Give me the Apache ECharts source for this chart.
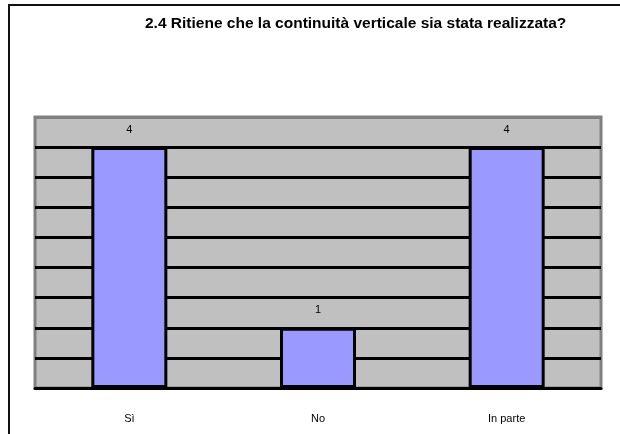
<!DOCTYPE html>
<html>
<head>
<meta charset="utf-8">
<script src="https://cdn.jsdelivr.net/npm/echarts@6/dist/echarts.min.js"></script>
<style>
    html, body { margin: 0; padding: 0; background: #fff; }
    #chart { width: 620px; height: 434px; }
</style>
</head>
<body>
<div id="chart"></div>
<script>
// dati del grafico
const categories = ['Sì', 'No', 'In parte'];
const values = [4, 1, 4];
const yMax = 4.5;
const yStep = 0.5;

// linee di griglia nere, l'ultima (in alto) grigia come il bordo
const gridColors = [];
for (let i = 0; i < yMax / yStep; i++) gridColors.push('#000');
gridColors.push('#808080');

const chart = echarts.init(document.getElementById('chart'));
chart.setOption({
    animation: false,
    textStyle: { fontFamily: '"Liberation Sans", Arial, sans-serif' },
    title: {
        text: '2.4 Ritiene che la continuità verticale sia stata realizzata?',
        left: 140,
        top: 11,
        textStyle: { fontSize: 15.5, fontWeight: 'bold', color: '#000' }
    },
    graphic: [
        { type: 'line', shape: { x1: 8, y1: 5, x2: 620, y2: 5 }, style: { stroke: '#111', lineWidth: 2 } },
        { type: 'line', shape: { x1: 9, y1: 5, x2: 9, y2: 434 }, style: { stroke: '#111', lineWidth: 2 } }
    ],
    grid: {
        left: 35,
        right: 19,
        top: 117,
        bottom: 46,
        show: true,
        backgroundColor: '#c0c0c0',
        borderColor: '#808080',
        borderWidth: 3
    },
    xAxis: {
        type: 'category',
        data: categories,
        axisLine: { lineStyle: { color: '#000', width: 3 } },
        axisTick: { length: 5, lineStyle: { color: '#000', width: 2 } },
        axisLabel: { color: '#000', fontSize: 11, margin: 25 }
    },
    yAxis: {
        type: 'value',
        min: 0,
        max: yMax,
        interval: yStep,
        axisLine: { show: false },
        axisTick: { show: false },
        axisLabel: { show: false },
        splitLine: { lineStyle: { color: gridColors, width: 3 } }
    },
    series: [{
        type: 'bar',
        data: values,
        barWidth: 76,
        itemStyle: { color: '#9999ff', borderColor: '#000', borderWidth: 3 },
        label: { show: true, position: 'top', distance: 12, color: '#000', fontSize: 11 }
    }]
});
</script>
</body>
</html>
